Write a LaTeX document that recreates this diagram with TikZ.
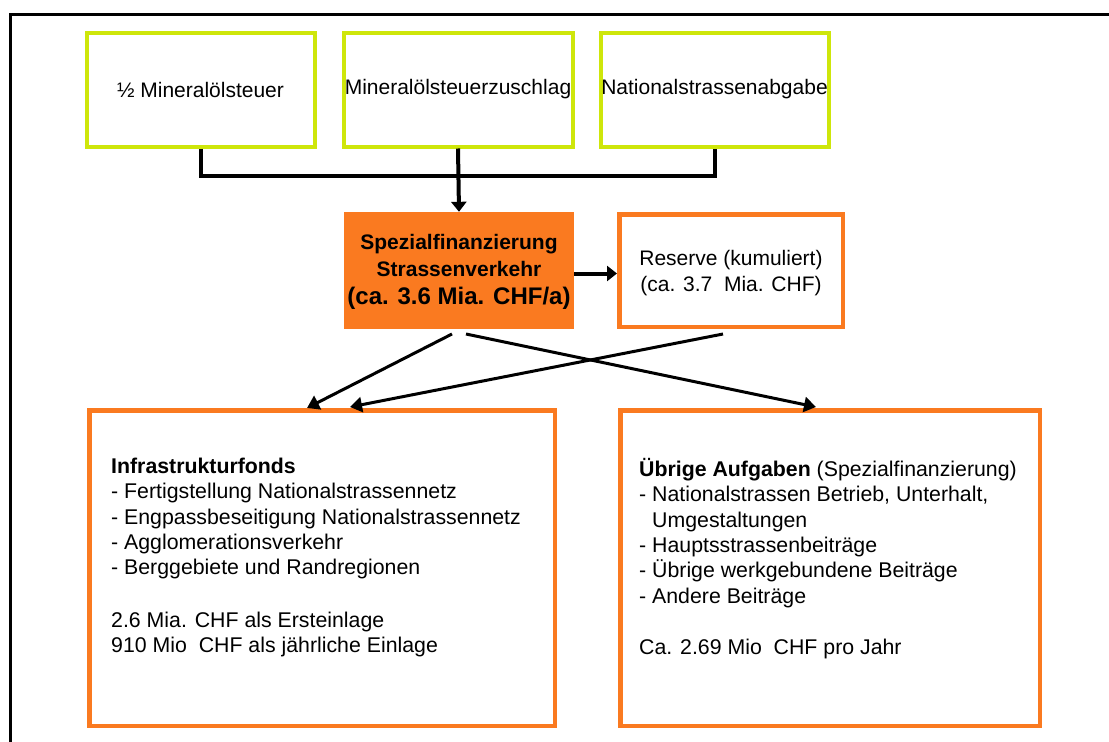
\documentclass[tikz,border=0pt]{standalone}
\usepackage{fontspec}
\setmainfont{Liberation Sans}
\usetikzlibrary{arrows.meta,calc}

\definecolor{boxgreen}{RGB}{206,230,10}
\definecolor{boxorange}{RGB}{250,122,32}

\tikzset{
  srcbox/.style={draw=boxgreen, line width=4pt, minimum height=114pt,
    inner sep=0pt, font=\fontsize{21}{25}\selectfont},
  fundbox/.style={draw=boxorange, line width=4.5pt, inner sep=0pt},
  bodytext/.style={anchor=north west, align=left, inner sep=0pt,
    font=\fontsize{21.3}{25.4}\selectfont},
  feed/.style={line width=4pt},
  flow/.style={line width=4pt, -{Triangle[length=10pt,width=15pt]}},
  split/.style={line width=3pt, -{Triangle[length=12pt,width=15pt]}},
}

\begin{document}
\begin{tikzpicture}[x=1pt,y=-1pt]
  \useasboundingbox (0,0) rectangle (1109,742);

  % frame (open to the right and bottom)
  \draw[line width=3.2pt, line join=miter] (1109,14.5) -- (10.5,14.5) -- (10.5,742);

  % revenue sources
  \node[srcbox, minimum width=228pt] (mst) at (200.5,89.5) {½ Mineralölsteuer};
  \node[srcbox, minimum width=229pt] (msz) at (458,89.5) {Mineralölsteuerzuschlag};
  \node[srcbox, minimum width=228pt] (nsa) at (714.5,89.5) {Nationalstrassenabgabe};

  % special financing and reserve
  \node[fill=boxorange, minimum width=230pt, minimum height=117pt, inner sep=0pt,
        align=center, font=\bfseries\fontsize{21}{27}\selectfont] (sf) at (459,270.5)
        {\rule{0pt}{18pt}Spezialfinanzierung\\Strassenverkehr\\[1.5pt]{\fontsize{24}{28}\selectfont(ca. 3.6 Mia. CHF/a)}};
  \node[fundbox, minimum width=223.5pt, minimum height=112.5pt, align=center,
        font=\fontsize{21}{26}\selectfont] (res) at (731,270.5)
        {\rule{0pt}{20pt}Reserve (kumuliert)\\(ca. 3.7\ \ Mia. CHF)};

  % spending boxes
  \node[fundbox, minimum width=465.5pt, minimum height=315.5pt] (inf) at (322,568) {};
  \node[fundbox, minimum width=419.5pt, minimum height=315.5pt] (ueb) at (830,568) {};

  \node[bodytext] (inftxt) at (111,457) {\rule{0pt}{16pt}\textbf{Infrastrukturfonds}\\
    - Fertigstellung Nationalstrassennetz\\
    - Engpassbeseitigung Nationalstrassennetz\\
    - Agglomerationsverkehr\\
    - Berggebiete und Randregionen\\[27pt]
    2.6 Mia. CHF als Ersteinlage\\
    910 Mio\ \ CHF als jährliche Einlage};

  \node[bodytext] (uebtxt) at (639,458) {\rule{0pt}{16pt}\textbf{Übrige Aufgaben} (Spezialfinanzierung)\\
    - Nationalstrassen Betrieb, Unterhalt,\\
    \phantom{- }Umgestaltungen\\
    - Hauptsstrassenbeiträge\\
    - Übrige werkgebundene Beiträge\\
    - Andere Beiträge\\[25.6pt]
    Ca. 2.69 Mio\ \ CHF pro Jahr};

  % collecting the sources
  \coordinate (join) at (458,176);
  \draw[feed] (mst.south) |- (join) -| (nsa.south);
  \draw[flow] (msz.south) -- (sf.north);

  % into the reserve
  \draw[flow] ($(sf.east)+(0,3)$) -- ($(res.west)+(0,3)$);

  % distribution
  \coordinate (sfL) at (452,334);
  \coordinate (sfR) at (466,334);
  \coordinate (resB) at (723,334);
  \coordinate (infA) at (307,408);
  \coordinate (infB) at (350,407);
  \coordinate (uebA) at (816,407);
  \draw[split] (sfL) -- (infA);
  \draw[split] (resB) -- (infB);
  \draw[split] (sfR) -- (uebA);
\end{tikzpicture}
\end{document}
